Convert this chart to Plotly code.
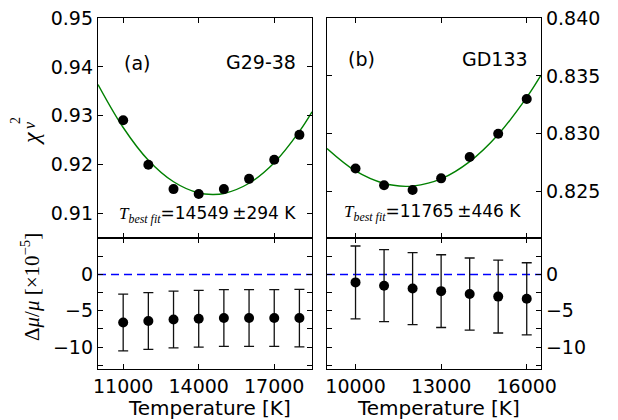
import plotly.graph_objects as go

# ---------------- data ----------------
temp_a = [11000, 12000, 13000, 14000, 15000, 16000, 17000, 18000]
chi2_a = [0.9291, 0.9200, 0.9150, 0.9140, 0.9150, 0.9171, 0.9210, 0.9261]
fit_t_a = [10000, 11000, 12000, 13000, 14000, 14549, 15000, 16000, 17000, 18000, 18500]
fit_chi2_a = [0.9364, 0.9276, 0.9209, 0.9165, 0.9142, 0.9139, 0.9141, 0.9162, 0.9204, 0.9268, 0.9308]
dmu_a = [-6.6, -6.4, -6.2, -6.1, -6.0, -6.0, -6.0, -6.0]
dmu_err_a = [3.9, 3.9, 3.9, 3.9, 3.9, 3.9, 3.9, 3.95]

temp_b = [10000, 11000, 12000, 13000, 14000, 15000, 16000]
chi2_b = [0.8270, 0.82555, 0.82515, 0.82615, 0.8280, 0.8300, 0.8330]
fit_t_b = [9000, 10000, 11000, 11765, 12000, 13000, 14000, 15000, 16000, 16500]
fit_chi2_b = [0.82873, 0.82679, 0.82571, 0.82546, 0.82548, 0.82611, 0.82760, 0.82994, 0.83314, 0.83506]
dmu_b = [-1.1, -1.55, -1.95, -2.3, -2.7, -3.05, -3.35]
dmu_err_b = [5.0, 4.95, 4.95, 5.0, 4.95, 5.0, 4.95]

x_ticks_a = [11000, 14000, 17000]
x_ticks_b = [10000, 13000, 16000]
chi_ticks_a = [0.91, 0.92, 0.93, 0.94, 0.95]
chi_ticks_b = [0.825, 0.830, 0.835, 0.840]
dmu_ticks = [-10, -5, 0]
dmu_ticktext = ["\u221210", "\u22125", "0"]
dmu_minor_step = 2.5

W, H = 618, 420
FONT = "DejaVu Sans"
SERIF = "Liberation Serif"

def px(x):
    return x / W

def py(y):
    return (H - y) / H

colL = [px(98), px(312)]
colR = [px(327), px(541)]
topD = [py(238), py(18)]
botD = [py(369), py(238)]

fig = go.Figure()

marker = dict(color="black", size=10)
green = dict(color="#008000", width=1.4, shape="spline", smoothing=1.0)
err = lambda e: dict(type="data", array=e, visible=True, color="#111111", thickness=1.3, width=5)

# panel (a) top
fig.add_trace(go.Scatter(x=fit_t_a, y=fit_chi2_a, mode="lines", line=green, xaxis="x2", yaxis="y2", showlegend=False))
fig.add_trace(go.Scatter(x=temp_a, y=chi2_a, mode="markers", marker=marker, xaxis="x2", yaxis="y2", showlegend=False))
# panel (a) bottom
fig.add_trace(go.Scatter(x=temp_a, y=dmu_a, mode="markers", marker=marker, error_y=err(dmu_err_a), xaxis="x", yaxis="y", showlegend=False))
# panel (b) top
fig.add_trace(go.Scatter(x=fit_t_b, y=fit_chi2_b, mode="lines", line=green, xaxis="x4", yaxis="y4", showlegend=False))
fig.add_trace(go.Scatter(x=temp_b, y=chi2_b, mode="markers", marker=marker, xaxis="x4", yaxis="y4", showlegend=False))
# panel (b) bottom
fig.add_trace(go.Scatter(x=temp_b, y=dmu_b, mode="markers", marker=marker, error_y=err(dmu_err_b), xaxis="x3", yaxis="y3", showlegend=False))

ax_common = dict(showline=True, linecolor="black", linewidth=1.3, mirror="ticks",
                 ticks="inside", ticklen=5, tickwidth=1, tickcolor="black",
                 showgrid=False, zeroline=False, automargin=False,
                 tickfont=dict(family=FONT, size=19, color="black"))
dmu_minor = dict(dtick=dmu_minor_step, tick0=0, ticks="inside", ticklen=5, tickwidth=1,
                 tickcolor="black", showgrid=False)

fig.update_layout(
    width=W, height=H,
    margin=dict(l=0, r=0, t=0, b=0, autoexpand=False),
    paper_bgcolor="white", plot_bgcolor="white",
    font=dict(family=FONT, color="black"),
    xaxis=dict(domain=colL, anchor="y", range=[10000, 18500], tickvals=x_ticks_a, tickformat="d",
               **ax_common),
    xaxis2=dict(domain=colL, anchor="y2", range=[10000, 18500], tickvals=x_ticks_a,
                showticklabels=False, **ax_common),
    yaxis=dict(domain=botD, anchor="x", range=[-13, 5], tickvals=dmu_ticks, ticktext=dmu_ticktext,
               minor=dmu_minor, **ax_common),
    yaxis2=dict(domain=topD, anchor="x2", range=[0.905, 0.95], tickvals=chi_ticks_a, tickformat=".2f",
                **ax_common),
    xaxis3=dict(domain=colR, anchor="y3", range=[9000, 16500], tickvals=x_ticks_b, tickformat="d",
                **ax_common),
    xaxis4=dict(domain=colR, anchor="y4", range=[9000, 16500], tickvals=x_ticks_b,
                showticklabels=False, **ax_common),
    yaxis3=dict(domain=botD, anchor="x3", side="right", range=[-13, 5], tickvals=dmu_ticks,
                ticktext=dmu_ticktext, minor=dmu_minor, **ax_common),
    yaxis4=dict(domain=topD, anchor="x4", side="right", range=[0.821, 0.840], tickvals=chi_ticks_b,
                tickformat=".3f", **ax_common),
)

# dashed zero lines
for xr, yr in [("x", "y"), ("x3", "y3")]:
    fig.add_shape(type="line", xref=f"{xr} domain", yref=yr, x0=0, x1=1, y0=0, y1=0,
                  line=dict(color="blue", width=1.5, dash="8px,5px"), layer="below")

def ann(text, x, y, size, xanchor="center", family=FONT, angle=0):
    fig.add_annotation(text=text, x=px(x), y=py(y), xref="paper", yref="paper",
                       xanchor=xanchor, yanchor="middle", showarrow=False, textangle=angle,
                       font=dict(family=family, size=size, color="black"))

ann("(a)", 137, 63, 19)
ann("G29-38", 298, 62, 19, xanchor="right")
ann("(b)", 361, 59, 19)
ann("GD133", 530, 59, 19, xanchor="right")

tb = (f"<span style=\"font-family:'{SERIF}'\"><i>T</i><sub><i>best fit</i></sub></span>")
ann(tb + "=14549\u2009\u00b1294 K", 207, 214, 17)
ann(tb + "=11765\u2009\u00b1446 K", 432, 212, 17)

# x-axis titles
ann("Temperature [K]", 209, 408, 20)
ann("Temperature [K]", 438, 408, 20)

# y-axis titles
ann("<i>\u03c7</i>", 31, 138, 24, family=SERIF, angle=-90)
ann("2", 16, 121, 14, family=SERIF, angle=-90)
ann("<i>\u03bd</i>", 29, 125, 16, family=SERIF, angle=-90)
ann("\u0394<i>\u03bc</i>/<i>\u03bc</i> [\u00d710<sup>\u22125</sup>]", 30, 287, 21, family=SERIF, angle=-90)

fig.write_html("out.html", config={"displayModeBar": False},
               post_script="document.body.style.margin='0';document.body.style.overflow='hidden';")
